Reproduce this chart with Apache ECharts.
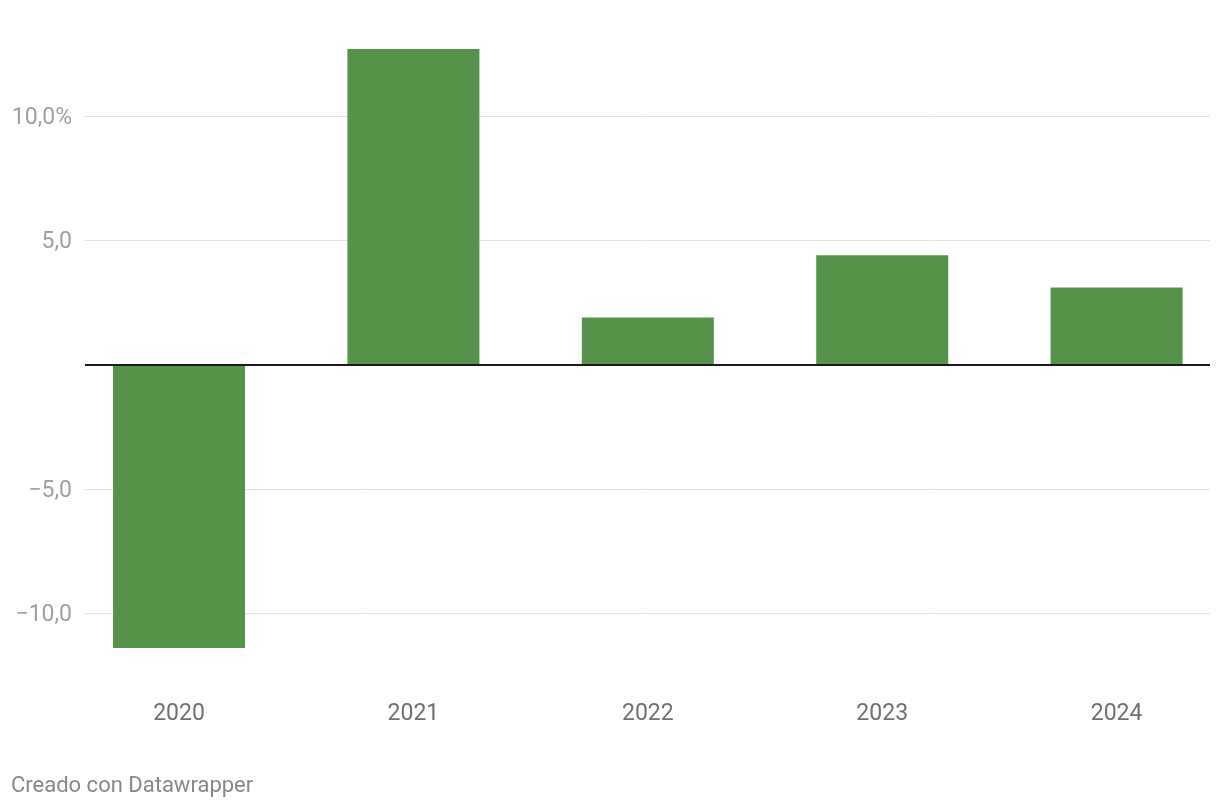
<!DOCTYPE html>
<html>
<head>
<meta charset="utf-8">
<script src="https://cdn.jsdelivr.net/npm/echarts@6/dist/echarts.min.js"></script>
<style>
html,body{margin:0;padding:0;background:#fff;}
#chart{width:1220px;height:808px;}
</style>
</head>
<body>
<div id="chart"></div>
<script>
const categories = ['2020', '2021', '2022', '2023', '2024'];
const values = [-11.4, 12.7, 1.9, 4.4, 3.1];
const tickValues = [-10, -5, 5, 10];
const zeroValue = [0];
const footerText = 'Creado con Datawrapper';

const Y_MIN = -12, Y_MAX = 13;
const X_MIN = -0.7637, X_MAX = 4.4411;
const TOP = 41.5, BOTTOM = 145;
const FONT = 'Roboto, "Noto Sans", sans-serif';

function fmt(v) {
  const s = (v < 0 ? '\u2212' : '') + Math.abs(v).toFixed(1).replace('.', ',');
  return v === 10 ? s + '%' : s;
}

const barData = categories.map((c, i) => [i, values[i]]);
const catIndex = categories.map((c, i) => i);

const chart = echarts.init(document.getElementById('chart'), null, {renderer: 'canvas'});
chart.setOption({
  animation: false,
  backgroundColor: '#ffffff',
  textStyle: {fontFamily: FONT},
  grid: [
    {left: 0, right: 0, top: TOP, bottom: BOTTOM, containLabel: false},
    {left: 85, right: 10, top: TOP, bottom: BOTTOM, containLabel: false}
  ],
  xAxis: [
    {
      type: 'value', gridIndex: 0, min: X_MIN, max: X_MAX,
      axisLine: {show: false}, axisTick: {show: false}, splitLine: {show: false},
      axisLabel: {
        show: true, color: '#707070', fontSize: 23, fontFamily: FONT,
        margin: 0, verticalAlign: 'middle',
        customValues: catIndex,
        formatter: function (v) {
          return (Number.isInteger(v) && v >= 0 && v < categories.length) ? categories[v] : '';
        }
      },
      position: 'bottom', offset: 51
    },
    {
      type: 'category', gridIndex: 1, data: [''],
      axisLine: {show: false}, axisTick: {show: false}, axisLabel: {show: false}
    }
  ],
  yAxis: [
    {
      type: 'value', gridIndex: 0, min: Y_MIN, max: Y_MAX,
      show: false, splitLine: {show: false}
    },
    {
      type: 'value', gridIndex: 1, min: Y_MIN, max: Y_MAX,
      axisLine: {show: false}, axisTick: {show: false},
      splitLine: {show: false},
      axisLabel: {
        show: true, color: '#a0a0a0', fontSize: 23, fontFamily: FONT, margin: 13,
        customValues: tickValues,
        formatter: function (v) { return tickValues.indexOf(v) >= 0 ? '{a|' + fmt(v) + '}' : ''; },
        rich: {a: {color: '#a0a0a0', fontSize: 23, fontFamily: FONT, padding: [4, 0, 0, 0]}}
      }
    }
  ],
  series: [
    {
      type: 'line', xAxisIndex: 1, yAxisIndex: 1, data: [], silent: true,
      z: 0,
      markLine: {
        silent: true, symbol: 'none', label: {show: false}, z: 0,
        lineStyle: {color: '#e2e2e2', width: 1, type: 'solid'},
        data: tickValues.map(v => ({yAxis: v}))
      }
    },
    {
      type: 'bar', xAxisIndex: 0, yAxisIndex: 0, data: barData,
      barWidth: 132,
      itemStyle: {color: '#55934a'},
      z: 3
    },
    {
      type: 'line', xAxisIndex: 1, yAxisIndex: 1, data: [], silent: true,
      z: 6,
      markLine: {
        silent: true, symbol: 'none', label: {show: false}, z: 6,
        lineStyle: {color: '#1a1a1a', width: 2, type: 'solid'},
        data: zeroValue.map(v => ({yAxis: v}))
      }
    }
  ],
  graphic: [
    {
      type: 'text', left: 11, top: 775,
      style: {text: footerText, fill: '#888888', font: '22px ' + FONT}
    }
  ]
});
</script>
</body>
</html>
